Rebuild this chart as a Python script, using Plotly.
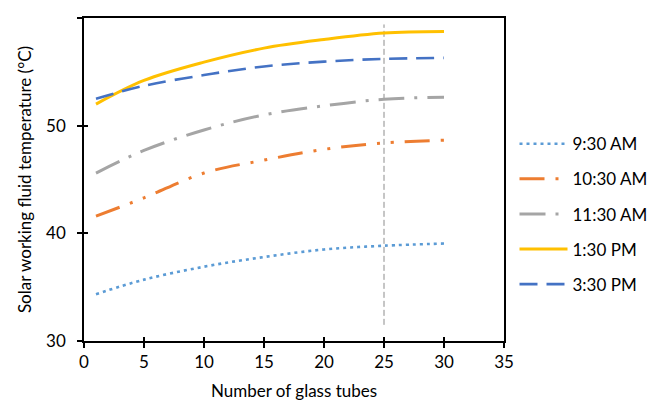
import plotly.graph_objects as go

# ---- data ----
x_tubes = [1, 5, 10, 15, 20, 25, 30]
t_0930 = [34.35, 35.7, 36.9, 37.8, 38.5, 38.85, 39.05]
t_1030 = [41.6, 43.3, 45.6, 46.8, 47.8, 48.4, 48.65]
t_1130 = [45.6, 47.7, 49.6, 51.0, 51.85, 52.45, 52.65]
t_1330 = [52.0, 54.2, 55.9, 57.2, 58.0, 58.6, 58.75]
t_1530 = [52.5, 53.7, 54.7, 55.5, 55.95, 56.2, 56.3]
series_names = ["9:30 AM", "10:30 AM", "11:30 AM", "1:30 PM", "3:30 PM"]
marker_x = 25            # vertical reference line position
marker_y = [31.5, 59.4]  # its extent
x_ticks = [0, 5, 10, 15, 20, 25, 30, 35]
y_ticks = [30, 40, 50, 60]
x_range = [0, 35]
y_range = [30, 60]

FONT = "Lato"
FS = 17
series = [t_0930, t_1030, t_1130, t_1330, t_1530]
colors = ["#5B9BD5", "#ED7D31", "#A5A5A5", "#FFC000", "#4472C4"]
dashes = ["3px,4px",
          "25px,11px,3px,11px,3px,11px",
          "26px,10px,3px,10px",
          "solid",
          "18px,9px"]
widths = [2.6, 3, 3, 3, 2.6]

fig = go.Figure()
for i, (name, ys) in enumerate(zip(series_names, series)):
    fig.add_trace(go.Scatter(
        x=x_tubes, y=ys, name=name, mode="lines",
        line=dict(color=colors[i], width=widths[i], dash=dashes[i], shape="spline", smoothing=1.0),
        legendgroup=name,
    ))

# dummy trace to carry the overlay axes (for crossing ticks)
fig.add_trace(go.Scatter(x=[None], y=[None], xaxis="x2", yaxis="y2", showlegend=False, hoverinfo="skip"))

fig.add_shape(type="line", x0=marker_x, x1=marker_x, y0=marker_y[0], y1=marker_y[1],
              xref="x", yref="y", line=dict(color="#8C8C8C", width=1, dash="6px,3px"), layer="below")

axis_common = dict(showgrid=False, zeroline=False, linecolor="black", linewidth=1.5, automargin=False,
                   tickcolor="black", tickwidth=1.5, tickfont=dict(family=FONT, size=FS, color="black"))

fig.update_layout(
    width=656, height=394, autosize=False,
    margin=dict(l=76, r=160, t=10, b=61),
    paper_bgcolor="white", plot_bgcolor="white",
    font=dict(family=FONT, size=FS, color="black"),
    showlegend=True,
    legend=dict(x=1.025, xanchor="left", y=0.665, yanchor="top",
                font=dict(family=FONT, size=FS, color="black"),
                tracegroupgap=10, itemwidth=48, bgcolor="rgba(0,0,0,0)"),
    xaxis=dict(range=x_range, tickvals=x_ticks, ticks="outside", ticklen=5,
               showline=True, mirror=True,
               title=dict(text="Number of glass tubes", font=dict(family=FONT, size=FS), standoff=14),
               **axis_common),
    yaxis=dict(range=y_range, tickvals=y_ticks, ticks="outside", ticklen=5,
               showline=True, mirror=True, ticklabelstandoff=8,
               title=dict(text="Solar working fluid temperature (°C)", font=dict(family=FONT, size=FS), standoff=10),
               **axis_common),
    xaxis2=dict(range=x_range, tickvals=x_ticks, ticks="inside", ticklen=4, overlaying="x",
                anchor="y2", showticklabels=False, showline=False, showgrid=False, zeroline=False,
                tickcolor="black", tickwidth=1.5),
    yaxis2=dict(range=y_range, tickvals=y_ticks, ticks="inside", ticklen=4, overlaying="y",
                anchor="x2", showticklabels=False, showline=False, showgrid=False, zeroline=False,
                tickcolor="black", tickwidth=1.5),
)

fig.write_html("out.html")
